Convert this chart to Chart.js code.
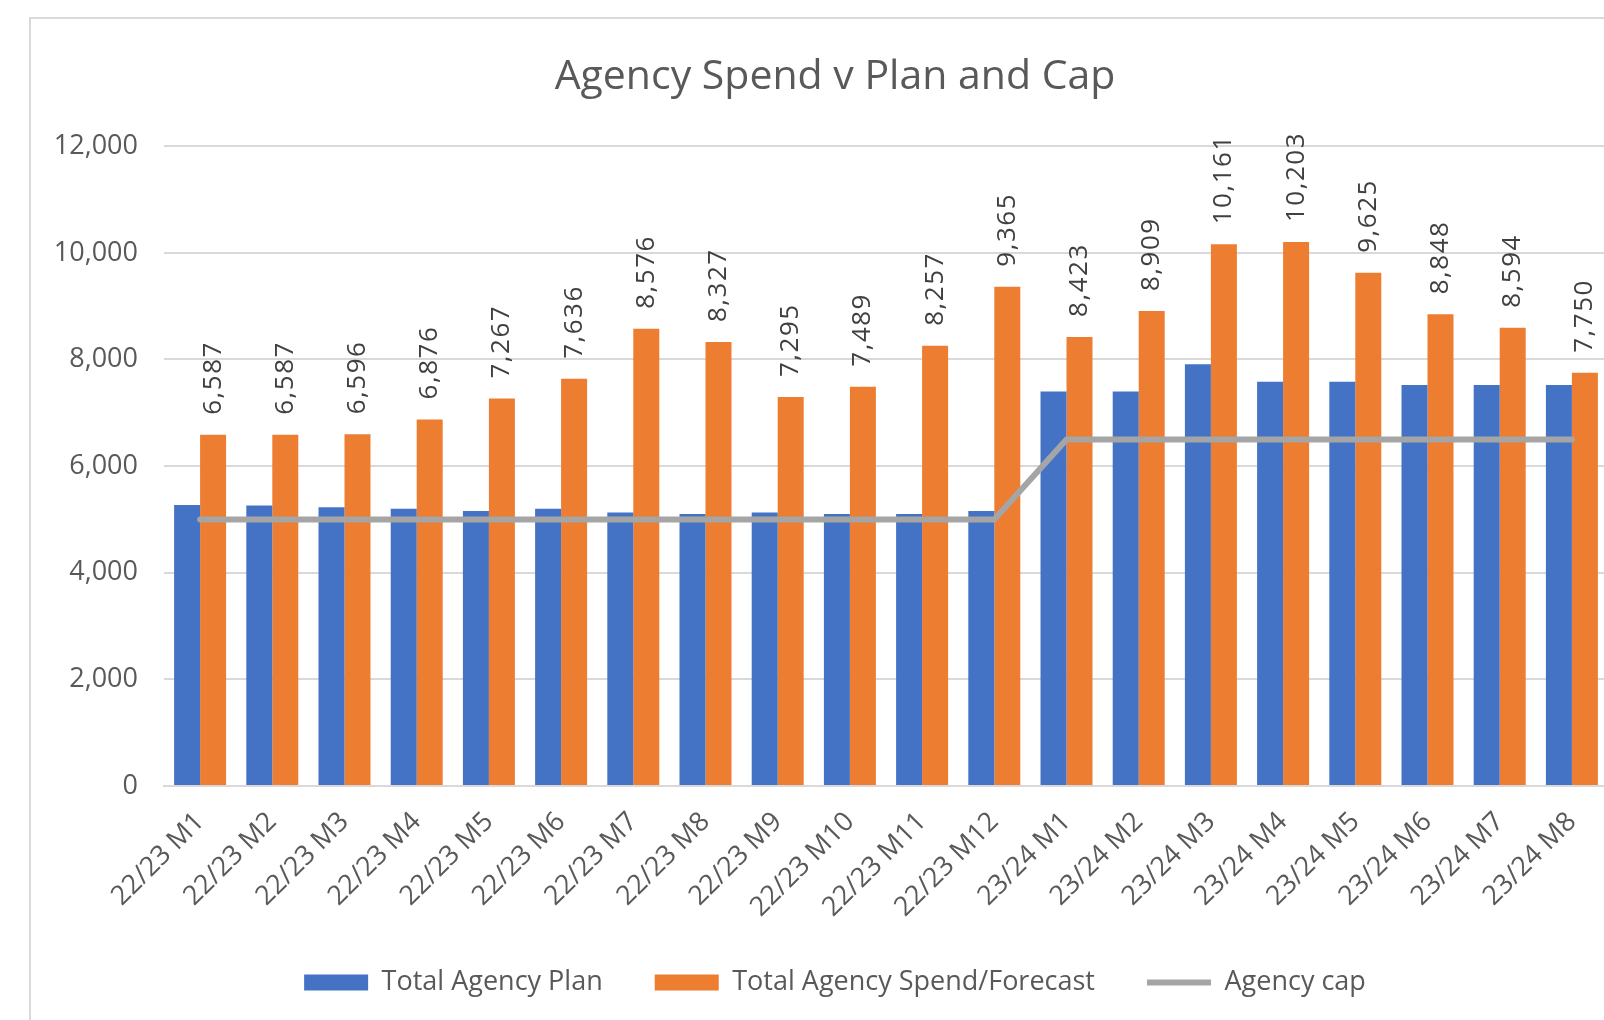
<!DOCTYPE html>
<html>
<head>
<meta charset="utf-8">
<title>Agency Spend v Plan and Cap</title>
<script src="https://cdn.jsdelivr.net/npm/chart.js@4.4.1/dist/chart.umd.min.js"></script>
<style>
  html, body { margin: 0; padding: 0; background: #fff; overflow: hidden; }
  #frame {
    position: absolute; left: 29px; top: 17px;
    width: 1618px; height: 1040px;
    border: 2px solid #d9d9d9;
    background: #fff;
  }
</style>
</head>
<body>
<div id="frame"><canvas id="myChart"></canvas></div>
<script>
// chart data
const months = ['22/23 M1','22/23 M2','22/23 M3','22/23 M4','22/23 M5','22/23 M6','22/23 M7','22/23 M8','22/23 M9','22/23 M10','22/23 M11','22/23 M12',
  '23/24 M1','23/24 M2','23/24 M3','23/24 M4','23/24 M5','23/24 M6','23/24 M7','23/24 M8'];
const planValues = [5270,5260,5230,5200,5160,5200,5130,5100,5130,5100,5100,5160,7400,7400,7910,7580,7580,7520,7520,7520];
const spendValues = [6587,6587,6596,6876,7267,7636,8576,8327,7295,7489,8257,9365,8423,8909,10161,10203,9625,8848,8594,7750];
const capValues = [5000,5000,5000,5000,5000,5000,5000,5000,5000,5000,5000,5000,6500,6500,6500,6500,6500,6500,6500,6500];
const yTicks = [0,2000,4000,6000,8000,10000,12000];

const fontName = '"Open Sans", "Noto Sans", sans-serif';
const textGrey = '#595959';

// vertical value labels over the orange bars
const barLabels = {
  id: 'barLabels',
  afterLayout(chart) {
    // y labels are wider than the axis box, so don't let them get clipped
    chart.scales.y.left = 0;
  },
  afterDatasetsDraw(chart) {
    const meta = chart.getDatasetMeta(1);
    const ctx = chart.ctx;
    ctx.save();
    ctx.font = '26px ' + fontName;
    ctx.letterSpacing = '1.5px';
    ctx.fillStyle = '#404040';
    ctx.textAlign = 'left';
    ctx.textBaseline = 'middle';
    meta.data.forEach(function (bar, i) {
      ctx.save();
      ctx.translate(bar.x, bar.y - 20);
      ctx.rotate(-Math.PI / 2);
      ctx.fillText(spendValues[i].toLocaleString('en-US'), 0, 0);
      ctx.restore();
    });
    ctx.restore();
  }
};

const ctx = document.getElementById('myChart').getContext('2d');
const myChart = new Chart(ctx, {
  data: {
    labels: months,
    datasets: [
      {
        type: 'bar',
        label: 'Total Agency Plan',
        data: planValues,
        backgroundColor: '#4472c4',
        borderWidth: 0,
        pointStyle: 'rect',
        order: 1
      },
      {
        type: 'bar',
        label: 'Total Agency Spend/Forecast',
        data: spendValues,
        backgroundColor: '#ed7d31',
        borderWidth: 0,
        pointStyle: 'rect',
        order: 1
      },
      {
        type: 'line',
        label: 'Agency cap',
        data: capValues,
        borderColor: '#a5a5a5',
        backgroundColor: '#a5a5a5',
        borderWidth: 6,
        borderCapStyle: 'round',
        borderJoinStyle: 'round',
        pointRadius: 0,
        pointStyle: 'line',
        tension: 0,
        order: 0
      }
    ]
  },
  options: {
    responsive: true,
    maintainAspectRatio: false,
    animation: false,
    layout: { padding: { left: 31, right: 41, top: 0, bottom: 53 } },
    datasets: {
      bar: { categoryPercentage: 0.72, barPercentage: 1.0 }
    },
    scales: {
      x: {
        grid: { display: false, drawTicks: false },
        border: { display: true, color: '#d9d9d9', width: 2 },
        ticks: {
          autoSkip: false,
          minRotation: 45,
          maxRotation: 45,
          padding: 20,
          color: textGrey,
          font: { family: fontName, size: 27 }
        },
        afterFit: function (scale) { scale.height = 131; }
      },
      y: {
        min: 0,
        max: 12000,
        afterBuildTicks: function (scale) {
          scale.ticks = yTicks.map(function (v) { return { value: v }; });
        },
        grid: { color: '#d9d9d9', lineWidth: 2, drawTicks: false },
        border: { display: false },
        ticks: {
          padding: 26,
          color: textGrey,
          font: { family: fontName, size: 27 },
          callback: function (v) { return v.toLocaleString('en-US'); }
        },
        afterFit: function (scale) { scale.width = 102; }
      }
    },
    plugins: {
      title: {
        display: true,
        text: 'Agency Spend v Plan and Cap',
        color: textGrey,
        font: { family: fontName, size: 41, weight: 'normal' },
        padding: { top: 34, bottom: 44 }
      },
      legend: {
        position: 'bottom',
        labels: {
          usePointStyle: true,
          pointStyleWidth: 64,
          boxHeight: 16,
          padding: 52,
          color: textGrey,
          font: { family: fontName, size: 27 },
          sort: function (a, b) { return a.datasetIndex - b.datasetIndex; }
        }
      },
      tooltip: { enabled: false }
    }
  },
  plugins: [barLabels]
});
</script>
</body>
</html>
